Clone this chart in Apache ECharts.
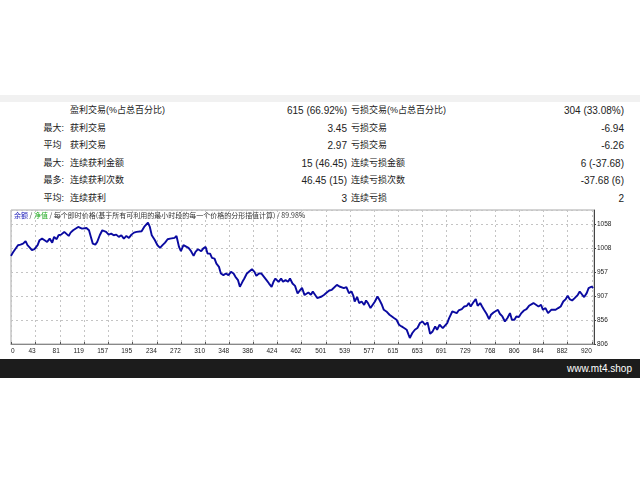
<!DOCTYPE html>
<html>
<head>
<meta charset="utf-8">
<script src="https://cdn.jsdelivr.net/npm/echarts@6/dist/echarts.min.js"></script>
<style>
html,body{margin:0;padding:0;background:#fff;}
#wrap{position:relative;width:640px;height:480px;overflow:hidden;font-family:"Liberation Sans","Noto Sans CJK SC",sans-serif;color:#222;}
#band{position:absolute;left:0;top:95px;width:640px;height:7px;background:#f1f1f1;}
.row{position:absolute;left:0;width:640px;height:17.5px;line-height:17.5px;font-size:9px;}
.c{position:absolute;top:0;white-space:nowrap;}
.n{font-size:10px;}
#chart{position:absolute;left:0;top:0;width:640px;height:480px;}
#foot{position:absolute;left:0;top:359px;width:640px;height:19px;background:#1c1c1c;}
#foot span{position:absolute;right:8px;top:0;line-height:19px;color:#fff;font-size:10px;font-family:"Liberation Sans",sans-serif;}
</style>
</head>
<body>
<div id="wrap">
  <div id="band"></div>
  <div id="table"></div>
  <div id="chart"></div>
  <div id="foot"><span>www.mt4.shop</span></div>
</div>
<script>
// ---- table data ----
const rowPrefix   = ['', '最大:', '平均', '最大:', '最多:', '平均:'];
const winLabels   = ['盈利交易(%占总百分比)', '获利交易', '获利交易', '连续获利金额', '连续获利次数', '连续获利'];
const winValues   = ['615 (66.92%)', '3.45', '2.97', '15 (46.45)', '46.45 (15)', '3'];
const lossLabels  = ['亏损交易(%占总百分比)', '亏损交易', '亏损交易', '连续亏损金额', '连续亏损次数', '连续亏损'];
const lossValues  = ['304 (33.08%)', '-6.94', '-6.26', '6 (-37.68)', '-37.68 (6)', '2'];

// ---- chart data ----
const chartTitle = '每个即时价格(基于所有可利用的最小时段的每一个价格的分形插值计算) / 89.98%';
const xTicks = [0, 43, 81, 119, 157, 195, 234, 272, 310, 348, 386, 424, 462, 501, 539, 577, 615, 653, 691, 729, 768, 806, 844, 882, 920];
const yTicks = [806, 856, 907, 957, 1008, 1058];
const tradeNo = [4,7,10,15,19,23,27,30,34,37,41,46,49,53,57,61,65,69,72,76,79,83,88,91,95,98,102,105,110,112,116,119,123,127,130,133,137,140,144,148,151,154,158,162,166,170,174,178,182,186,190,194,198,202,205,210,214,217,220,223,226,231,235,
239,243,247,251,255,258,262,265,269,272,276,279,284,288,292,295,299,304,307,311,314,318,321,325,328,332,335,339,343,347,351,355,358,362,365,369,372,376,379,384,388,391,395,399,403,407,411,415,418,421,426,430,433,437,441,444,448,452,456,460,463,467,
469,473,477,480,483,487,490,494,498,502,506,510,513,518,522,525,529,533,537,541,544,546,550,553,557,561,564,567,571,574,578,582,585,589,592,596,601,604,608,612,616,620,624,628,631,633,637,641,645,649,653,657,661,665,669,673,676,680,685,688,692,695,
700,703,707,710,715,719,723,726,729,733,737,740,744,747,750,754,758,761,765,768,772,775,779,783,787,791,794,798,801,805,809,813,817,821,824,828,831,836,840,843,847,851,856,859,863,867,871,875,879,882,885,889,893,898,901,905,908,912,915,920,922];
const balance = [991.0,997.9,1000.8,1013.4,1014.6,1016.7,1021.8,1013.4,1007.7,1002.9,1005.0,1013.4,1023.9,1027.2,1023.9,1020.3,1027.2,1018.8,1030.8,1026.0,1034.3,1035.6,1041.3,1038.5,1032.9,1039.8,1044.8,1041.3,1051.7,1053.8,1048.2,1044.8,1049.6,1044.8,1030.8,1016.7,1014.6,1020.3,1034.3,1044.8,1048.2,1041.3,1035.6,1037.7,1034.3,1035.6,1030.8,1034.3,1027.2,1032.9,1028.7,1035.6,1039.8,1041.3,1044.8,1042.7,1051.7,1055.3,1060.7,1051.7,1034.3,1023.9,1013.4,
1007.7,1013.4,1018.8,1026.0,1027.2,1030.8,1028.7,1032.9,1009.8,1000.8,1013.4,1013.4,1007.7,1000.8,991.0,999.3,1005.0,1000.8,1006.3,1009.8,995.8,995.8,986.8,985.3,974.8,967.9,953.9,950.5,953.9,950.5,957.5,953.9,947.0,940.1,926.0,936.5,943.4,953.9,950.5,963.1,957.5,949.1,953.9,953.9,947.0,940.1,932.9,926.0,936.5,943.4,936.5,943.4,936.5,940.1,936.5,943.4,932.9,928.1,912.0,919.1,923.9,908.7,
909.3,914.1,909.3,916.2,912.8,902.4,898.8,905.7,909.3,914.1,918.3,919.8,923.3,930.2,926.7,928.1,923.3,925.4,912.8,916.2,907.2,895.2,904.5,891.9,895.2,888.3,897.3,891.9,881.4,877.8,895.2,905.7,898.8,888.3,877.8,874.3,867.4,869.5,860.5,856.9,846.4,842.9,839.5,836.0,825.5,818.6,829.0,836.0,839.5,850.0,853.3,846.4,851.3,827.6,832.4,842.9,836.0,846.4,839.5,836.0,850.0,860.5,
874.3,877.8,870.9,876.4,879.3,884.8,886.2,891.9,884.8,893.1,900.3,886.2,891.9,884.8,877.8,869.5,858.4,867.4,872.2,870.9,877.8,869.5,863.8,853.3,860.5,870.9,856.9,856.9,863.8,862.6,870.9,876.4,879.3,886.2,888.3,891.9,890.4,884.8,888.3,877.8,881.4,870.9,877.8,874.3,877.8,881.4,884.8,895.2,900.3,907.2,900.3,897.3,902.4,909.3,916.2,909.3,904.5,912.8,923.3,926.7,923.3];

// ---- build table ----
const tbl = document.getElementById('table');
for (let i = 0; i < rowPrefix.length; i++) {
  const r = document.createElement('div');
  r.className = 'row';
  r.style.top = (102 + i * 17.5) + 'px';
  r.innerHTML =
    '<span class="c" style="left:43.5px">' + rowPrefix[i] + '</span>' +
    '<span class="c" style="left:70px">' + winLabels[i] + '</span>' +
    '<span class="c n" style="right:293px">' + winValues[i] + '</span>' +
    '<span class="c" style="left:351px">' + lossLabels[i] + '</span>' +
    '<span class="c n" style="right:16px">' + lossValues[i] + '</span>';
  tbl.appendChild(r);
}

// ---- chart ----
const xMin = 4, xMax = 923.5;
const yMin = 806, yMax = 1087.3, yInterval = 50.375;
const xTickPos = xTicks.map(v => Math.max(v, xMin));

const chart = echarts.init(document.getElementById('chart'), null, {renderer: 'canvas'});
chart.setOption({
  animation: false,
  backgroundColor: 'transparent',
  title: {
    text: '{b|余额} / {g|净值} / ' + chartTitle,
    left: 14, top: 212, padding: 0,
    textStyle: {
      fontSize: 7, color: '#333', fontWeight: 'normal', fontFamily: 'Noto Sans CJK SC',
      rich: {
        b: {color: '#2222bb', fontSize: 7, fontFamily: 'Noto Sans CJK SC'},
        g: {color: '#22aa22', fontSize: 7, fontFamily: 'Noto Sans CJK SC'}
      }
    }
  },
  grid: {left: 11, right: 46, top: 210, bottom: 136, show: true, borderColor: '#a8a8a8', borderWidth: 1, containLabel: false},
  xAxis: {
    type: 'value', min: xMin, max: xMax,
    axisLine: {show: true, lineStyle: {color: '#888', width: 1}},
    axisTick: {show: true, inside: true, length: 2, customValues: xTickPos, lineStyle: {color: '#555'}},
    axisLabel: {
      customValues: xTickPos,
      formatter: v => (v === xMin ? '0' : String(v)),
      align: 'right', alignMinLabel: 'left',
      fontSize: 6.5, color: '#222', margin: 4, fontFamily: 'Liberation Sans'
    },
    splitLine: {show: true, lineStyle: {type: [2, 3], color: '#c4c4c4', width: 1}}
  },
  yAxis: {
    type: 'value', position: 'right', min: yMin, max: yMax, interval: yInterval,
    axisLine: {show: true, lineStyle: {color: '#444', width: 1}},
    axisTick: {show: true, length: 2, lineStyle: {color: '#444'}},
    axisLabel: {
      formatter: v => String(Math.round(v)),
      showMaxLabel: false, fontSize: 6.5, color: '#222', margin: 3, fontFamily: 'Liberation Sans'
    },
    splitLine: {show: true, lineStyle: {type: [2, 3], color: '#c4c4c4', width: 1}}
  },
  series: [{
    type: 'line',
    data: tradeNo.map((t, i) => [t, balance[i]]),
    showSymbol: false, silent: true,
    lineStyle: {color: '#0a0aa0', width: 1.9},
    z: 3
  }]
});
</script>
</body>
</html>
